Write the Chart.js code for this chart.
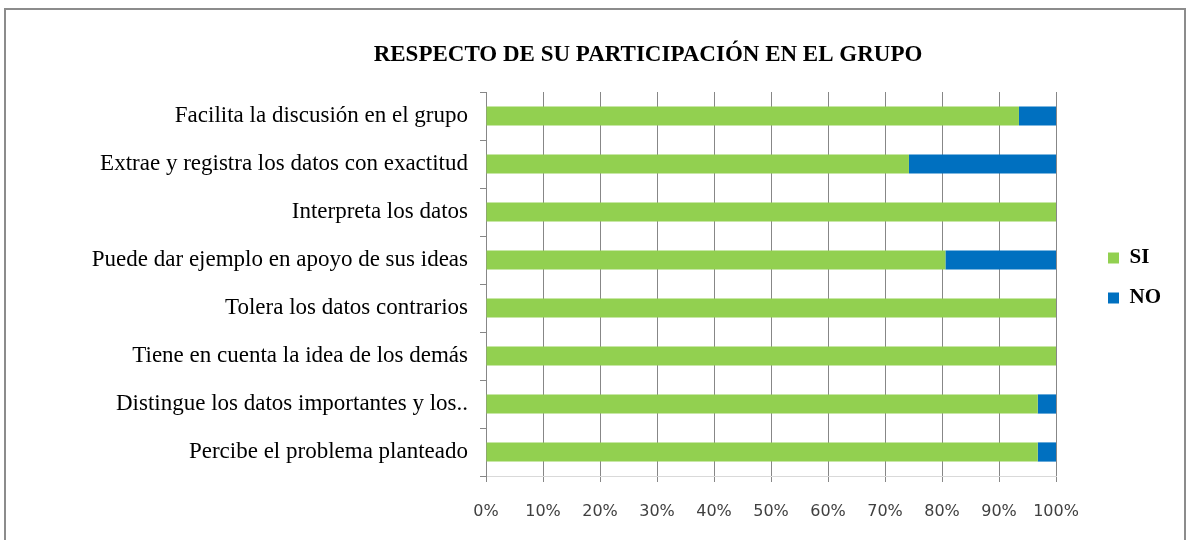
<!DOCTYPE html>
<html>
<head>
<meta charset="utf-8">
<script src="https://cdn.jsdelivr.net/npm/chart.js@4.4.1/dist/chart.umd.min.js"></script>
<style>
  html, body { margin: 0; padding: 0; background: #fff; overflow: hidden; width: 1186px; height: 540px; }
  #frame { position: absolute; left: 4px; top: 8px; width: 1182px; height: 600px; border: 2px solid #8c8c8c; box-sizing: border-box; pointer-events: none; z-index: 2; }
  #wrap { position: absolute; left: 0; top: 0; width: 1296px; height: 540px; z-index: 1; }
</style>
</head>
<body>
<div id="frame"></div>
<div id="wrap"><canvas id="c" width="1296" height="540"></canvas></div>
<script>
const chartTitle = 'RESPECTO DE SU PARTICIPACIÓN EN EL GRUPO';
const categories = [
  'Facilita la discusión en el grupo',
  'Extrae y registra los datos con exactitud',
  'Interpreta los datos',
  'Puede dar ejemplo en apoyo de sus ideas',
  'Tolera los datos contrarios',
  'Tiene en cuenta la idea de los demás',
  'Distingue los datos importantes y los..',
  'Percibe el problema planteado'
];
const siValues = [93.5, 74.2, 100, 80.6, 100, 100, 96.8, 96.8];
const noValues = [6.5, 25.8, 0, 19.4, 0, 0, 3.2, 3.2];
const xTicks = [0, 10, 20, 30, 40, 50, 60, 70, 80, 90, 100];

const serif = '"Liberation Serif", "Times New Roman", serif';

const chart = new Chart(document.getElementById('c'), {
  type: 'bar',
  data: {
    labels: categories,
    datasets: [
      { label: 'SI', data: siValues, backgroundColor: '#92D050', borderWidth: 0 },
      { label: 'NO', data: noValues, backgroundColor: '#0070C0', borderWidth: 0 }
    ]
  },
  options: {
    indexAxis: 'y',
    responsive: false,
    animation: false,
    devicePixelRatio: 1,
    layout: { padding: { left: 10, right: 10, top: 16, bottom: 0 } },
    datasets: { bar: { categoryPercentage: 1.0, barPercentage: 0.4 } },
    plugins: {
      title: {
        display: true,
        text: chartTitle,
        color: '#000',
        font: { family: serif, size: 23, weight: 'bold' },
        padding: { top: 25, bottom: 23.4 }
      },
      legend: {
        position: 'right',
        labels: {
          color: '#000',
          font: { family: serif, size: 21, weight: 'bold' },
          boxWidth: 11,
          boxHeight: 11,
          padding: 19
        }
      },
      tooltip: { enabled: false }
    },
    scales: {
      x: {
        stacked: true,
        min: 0,
        max: 100,
        afterBuildTicks: s => { s.ticks = xTicks.map(v => ({ value: v })); },
        afterFit: s => { s.height = 64; },
        ticks: {
          callback: v => v + '%',
          color: '#404040',
          font: { family: '"DejaVu Sans", Verdana, sans-serif', size: 16 },
          padding: 20,
          maxRotation: 0,
          autoSkip: false
        },
        grid: { color: '#878787', lineWidth: 1, tickLength: 6 },
        border: { display: true, color: '#d9d9d9' }
      },
      y: {
        stacked: true,
        afterFit: s => { s.width = 476; },
        ticks: {
          color: '#000',
          font: { family: serif, size: 23 },
          padding: 12,
          autoSkip: false
        },
        grid: { offset: true, drawOnChartArea: false, color: '#878787', tickLength: 6 },
        border: { display: true, color: '#878787' }
      },
      gapInner: {
        type: 'linear',
        position: 'right',
        weight: 0,
        display: true,
        grid: { display: false },
        ticks: { display: false },
        border: { display: false },
        afterFit: s => { s.width = 33; }
      },
      gapOuter: {
        type: 'linear',
        position: 'right',
        weight: 3000,
        display: true,
        grid: { display: false },
        ticks: { display: false },
        border: { display: false },
        afterFit: s => { s.width = 115; }
      }
    }
  }
});
</script>
</body>
</html>
